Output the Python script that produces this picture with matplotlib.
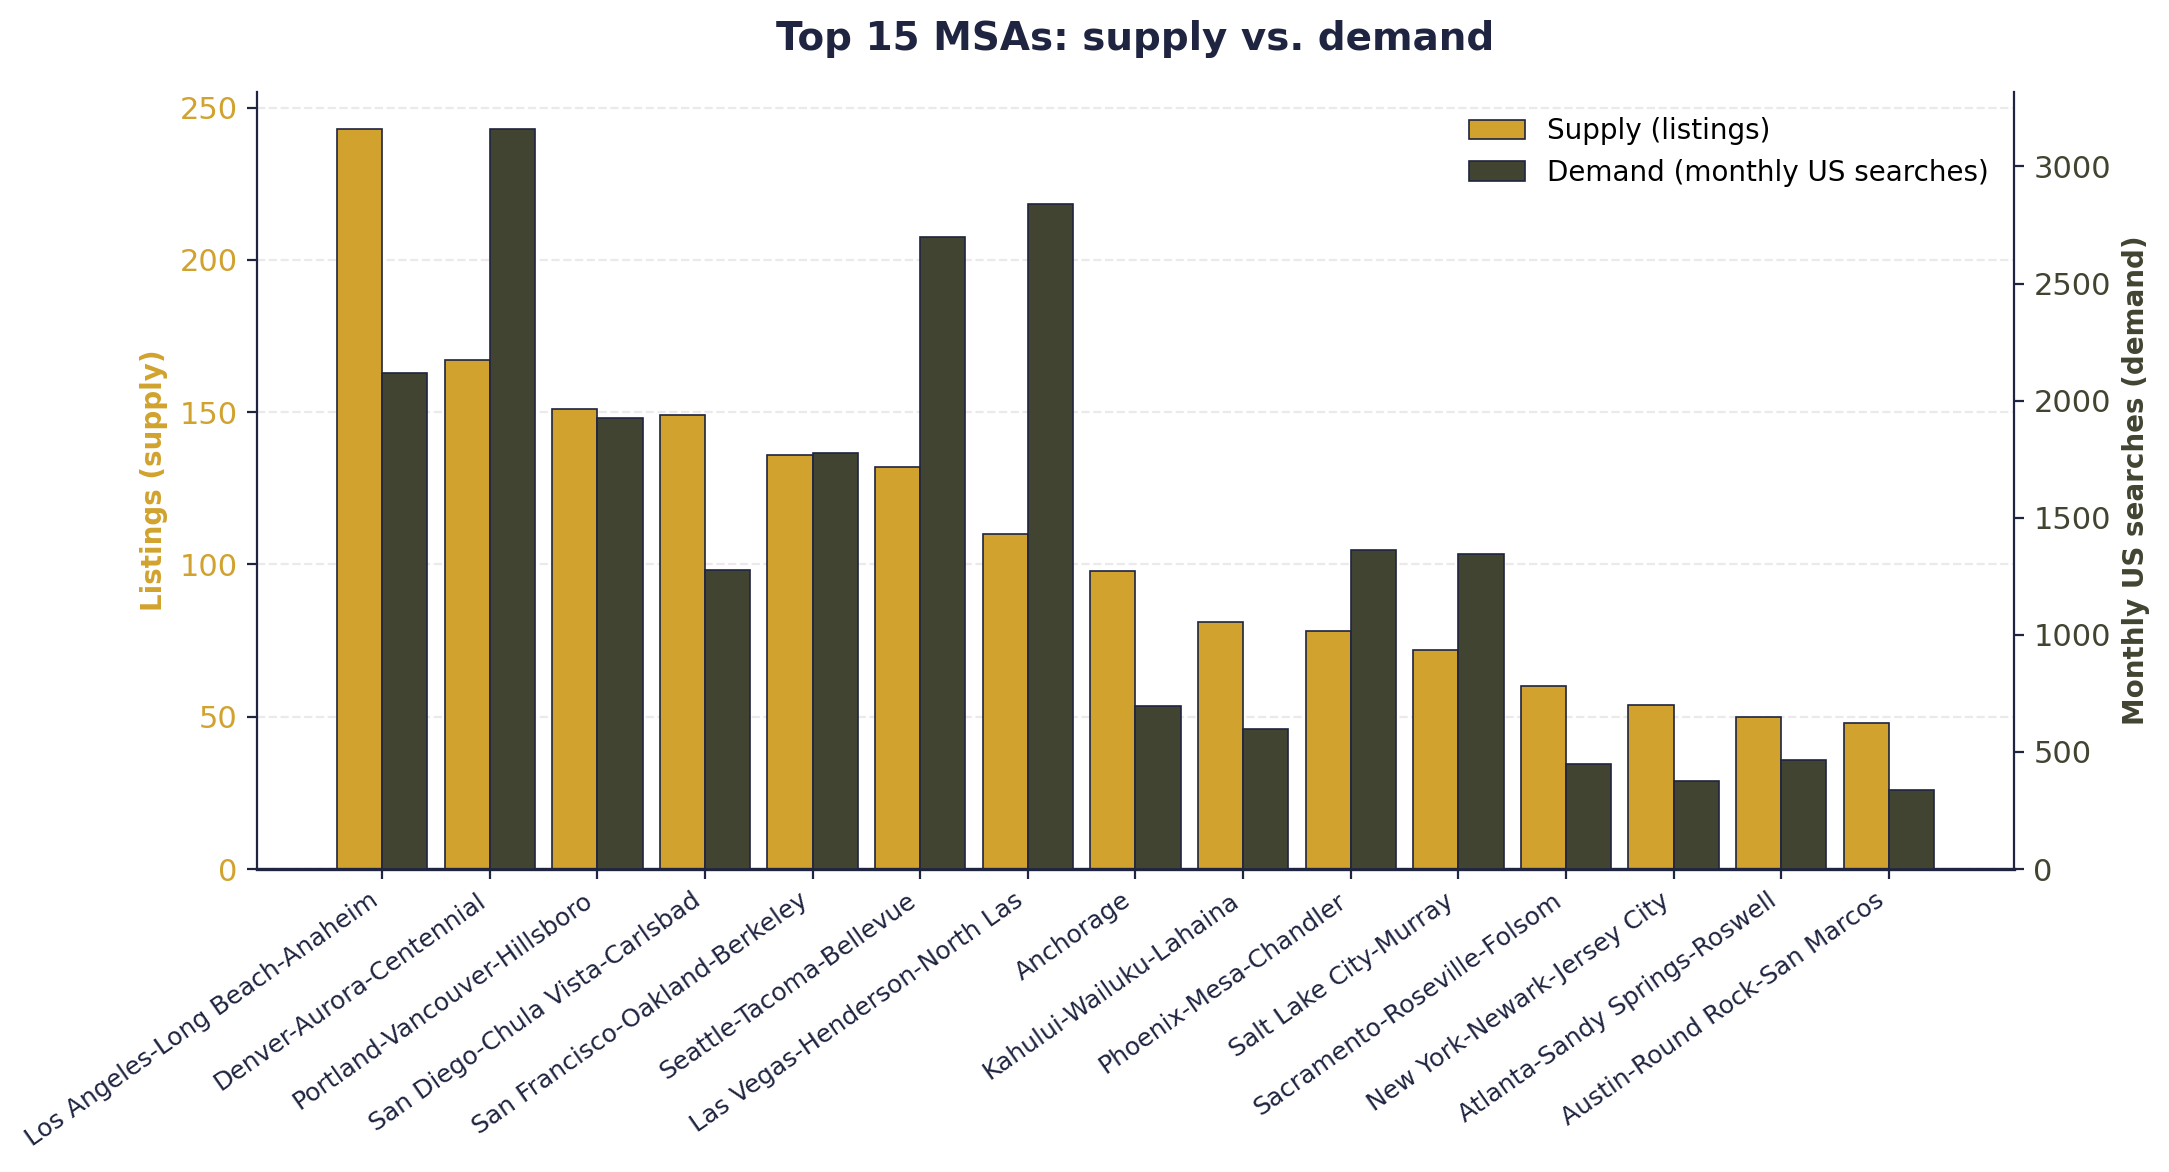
import matplotlib
matplotlib.use("Agg")
import matplotlib.pyplot as plt
import numpy as np

# Data
msas = [
    "Los Angeles-Long Beach-Anaheim",
    "Denver-Aurora-Centennial",
    "Portland-Vancouver-Hillsboro",
    "San Diego-Chula Vista-Carlsbad",
    "San Francisco-Oakland-Berkeley",
    "Seattle-Tacoma-Bellevue",
    "Las Vegas-Henderson-North Las",
    "Anchorage",
    "Kahului-Wailuku-Lahaina",
    "Phoenix-Mesa-Chandler",
    "Salt Lake City-Murray",
    "Sacramento-Roseville-Folsom",
    "New York-Newark-Jersey City",
    "Atlanta-Sandy Springs-Roswell",
    "Austin-Round Rock-San Marcos",
]
supply = [243, 167, 151, 149, 136, 132, 110, 98, 81, 78, 72, 60, 54, 50, 48]
demand = [2120, 3160, 1925, 1276, 1778, 2700, 2841, 697, 596, 1364, 1346, 449, 378, 467, 337]

GOLD = "#D1A22D"
OLIVE = "#414430"
NAVY = "#1F2440"

fig, ax = plt.subplots(figsize=(10.845, 5.86), dpi=200)
fig.subplots_adjust(left=0.1185, right=0.9285, top=0.9215, bottom=0.2585)

x = np.arange(len(msas))
w = 0.42

ax2 = ax.twinx()
b1 = ax.bar(x - w / 2, supply, width=w, color=GOLD, edgecolor=NAVY, linewidth=0.6,
            label="Supply (listings)")
b2 = ax2.bar(x + w / 2, demand, width=w, color=OLIVE, edgecolor=NAVY, linewidth=0.6,
             label="Demand (monthly US searches)")

ax.set_ylim(0, max(supply) * 1.05)
ax2.set_ylim(0, max(demand) * 1.05)

ax.set_xticks(x)
ax.set_xticklabels(msas, rotation=35, ha="right", fontsize=9, color=NAVY)

ax.set_ylabel("Listings (supply)", color=GOLD, fontsize=10, fontweight="bold")
ax2.set_ylabel("Monthly US searches (demand)", color=OLIVE, fontsize=10, fontweight="bold")
ax.tick_params(axis="y", labelcolor=GOLD, labelsize=11, color=NAVY)
ax2.tick_params(axis="y", labelcolor=OLIVE, labelsize=11, color=NAVY)
ax.tick_params(axis="x", color=NAVY)

ax.grid(axis="y", linestyle="--", color="#dddddd", alpha=0.6, linewidth=0.8)
ax.set_axisbelow(True)

for a in (ax, ax2):
    a.spines["top"].set_visible(False)
    for s in ("left", "right", "bottom"):
        a.spines[s].set_color(NAVY)
ax.spines["right"].set_visible(False)
ax2.spines["left"].set_visible(False)
ax2.spines["bottom"].set_visible(False)
ax.spines["bottom"].set_linewidth(1.2)

ax2.legend([b1, b2], ["Supply (listings)", "Demand (monthly US searches)"],
           loc="upper right", frameon=False, fontsize=10)

ax.set_title("Top 15 MSAs: supply vs. demand", fontsize=14, fontweight="bold",
             color=NAVY, pad=15)

fig.savefig("out.png", dpi=200)
